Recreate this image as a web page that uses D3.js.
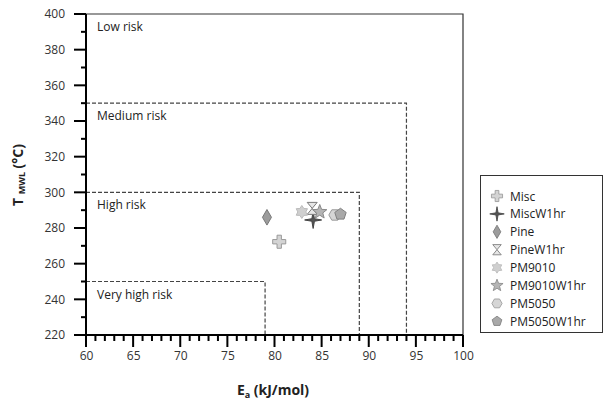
<!DOCTYPE html>
<html>
<head>
<meta charset="utf-8">
<script src="https://cdn.jsdelivr.net/npm/d3@7"></script>
<style>
html,body{margin:0;padding:0;background:#fff;}
svg{display:block;font-family:"Open Sans","Liberation Sans",sans-serif;}
</style>
</head>
<body>
<svg id="chart" width="604" height="401"></svg>
<script>
// ---- data ----
const seriesNames = ["Misc","MiscW1hr","Pine","PineW1hr","PM9010","PM9010W1hr","PM5050","PM5050W1hr"];
const eaValues    = [80.5, 84.1, 79.2, 84.0, 82.9, 84.8, 86.4, 87.0];
const tmwlValues  = [272.3, 284.5, 286.0, 291.0, 289.0, 289.0, 287.3, 287.7];
const zoneNames   = ["Low risk","Medium risk","High risk","Very high risk"];
const zoneTopT    = [400, 350, 300, 250];
const zoneRightEa = [100, 94, 89, 79];
const xMajorTicks = [60,65,70,75,80,85,90,95,100];
const yMajorTicks = [220,240,260,280,300,320,340,360,380,400];

const svg = d3.select("#chart");
const x = d3.scaleLinear().domain([60,100]).range([86,463]);
const y = d3.scaleLinear().domain([220,400]).range([335,14]);
const X0 = x(60), Y0 = y(220);

// frame (top & right)
svg.append("path")
  .attr("d", `M${X0},${y(400)}H${x(100)}V${Y0}`)
  .attr("fill","none").attr("stroke","#333").attr("stroke-width",1.2);

// risk zones
zoneNames.forEach((name,i)=>{
  if (i>0) {
    svg.append("path")
      .attr("d", `M${X0},${y(zoneTopT[i])}H${x(zoneRightEa[i])}V${Y0}`)
      .attr("fill","none").attr("stroke","#444").attr("stroke-width",1.2)
      .attr("stroke-dasharray","4,2");
  }
  svg.append("text")
    .attr("x", X0+11).attr("y", y(zoneTopT[i])+17)
    .attr("font-size",12).attr("fill","#222").text(name);
});

// axes labels via d3.axis
const gx = svg.append("g").attr("transform",`translate(0,${Y0})`)
  .call(d3.axisBottom(x).tickValues(xMajorTicks).tickSize(12).tickPadding(4).tickSizeOuter(0));
const gy = svg.append("g").attr("transform",`translate(${X0},0)`)
  .call(d3.axisLeft(y).tickValues(yMajorTicks).tickSize(12).tickPadding(9).tickSizeOuter(0));
[gx,gy].forEach(g=>{
  g.select(".domain").remove();
  g.selectAll(".tick line").remove();
  g.selectAll("text").attr("font-size",12).attr("fill","#333")
    .attr("font-family","'Open Sans','Liberation Sans',sans-serif");
});

// axis lines and tick marks as rects from the scales
const xMinor = d3.range(60,101,1).filter(v=>v%5!==0);
const yMinor = d3.range(220,401,10).filter(v=>v%20!==0);
const tickCol = "#000000";
const tk = svg.append("g");
function bar(x0,y0,w,h){ tk.append("rect").attr("x",x0).attr("y",y0).attr("width",w).attr("height",h).style("fill",tickCol); }
bar(X0-12, Y0-1, x(100)-X0+12, 2);
bar(X0-1, y(400), 2, Y0-y(400)+12);
xMajorTicks.forEach(v=>bar(x(v)-1, Y0, 2, 12));
xMinor.forEach(v=>bar(x(v)-1, Y0-1, 2, 7));
yMajorTicks.forEach(v=>bar(X0-12, y(v)-1, 12, 2));
yMinor.forEach(v=>bar(X0-5, y(v)-1, 5, 2));

// axis titles
const xt = svg.append("text").attr("x",273).attr("y",395).attr("text-anchor","middle")
  .attr("font-size",14).attr("font-weight","bold").attr("fill","#222");
xt.append("tspan").text("E");
xt.append("tspan").attr("font-size",9).attr("dy",3).text("a");
xt.append("tspan").attr("dy",-3).text(" (kJ/mol)");

const yt = svg.append("text").attr("transform",`translate(23,175) rotate(-90)`)
  .attr("text-anchor","middle").attr("font-size",14).attr("font-weight","bold").attr("fill","#222");
yt.append("tspan").text("T ");
yt.append("tspan").attr("font-size",9).attr("dy",2).text("MWL");
yt.append("tspan").attr("dy",-2).text(" (°C)");

// marker shapes
function starPath(n, ro, ri){
  const pts=[];
  for(let k=0;k<2*n;k++){
    const r = k%2===0?ro:ri, a = -Math.PI/2 + k*Math.PI/n;
    pts.push([r*Math.cos(a), r*Math.sin(a)]);
  }
  return "M"+pts.map(p=>p.join(",")).join("L")+"Z";
}
function polyPath(n, r, rot){
  const pts=[];
  for(let k=0;k<n;k++){ const a=rot+k*2*Math.PI/n; pts.push([r*Math.cos(a), r*Math.sin(a)]); }
  return "M"+pts.map(p=>p.join(",")).join("L")+"Z";
}
const markerStyles = [
  {d: d3.symbol(d3.symbolCross, 95)(), fill:"#d4d4d4", stroke:"#9a9a9a"},
  {d: starPath(4, 8.5, 1.8), fill:"#555", stroke:"#444"},
  {d: d3.symbol(d3.symbolDiamond, 70)(), fill:"#9c9c9c", stroke:"#777"},
  {d: "M-5,-6H5L0,0L5,6H-5L0,0Z", fill:"#e6e6e6", stroke:"#7a7a7a"},
  {d: starPath(6, 6.5, 4), fill:"#cfcfcf", stroke:"#bbb"},
  {d: starPath(5, 7.5, 3.2), fill:"#b5b5b5", stroke:"#8a8a8a"},
  {d: polyPath(6, 6, 0), fill:"#d6d6d6", stroke:"#9a9a9a"},
  {d: polyPath(5, 6, -Math.PI/2), fill:"#a9a9a9", stroke:"#808080"}
];

// points
svg.append("g").selectAll("path").data(seriesNames).join("path")
  .attr("transform",(d,i)=>`translate(${x(eaValues[i])},${y(tmwlValues[i])})`)
  .attr("d",(d,i)=>markerStyles[i].d)
  .attr("fill",(d,i)=>markerStyles[i].fill)
  .attr("stroke",(d,i)=>markerStyles[i].stroke)
  .attr("stroke-width",1);

// legend
const lg = svg.append("g");
lg.append("rect").attr("x",480.5).attr("y",175.5).attr("width",122).attr("height",157)
  .attr("fill","#fff").attr("stroke","#333").attr("stroke-width",1);
const items = lg.selectAll("g.item").data(seriesNames).join("g").attr("class","item")
  .attr("transform",(d,i)=>`translate(0,${196+i*17.9})`);
items.append("path").attr("transform","translate(497,0) scale(0.85)")
  .attr("d",(d,i)=>markerStyles[i].d)
  .attr("fill",(d,i)=>markerStyles[i].fill)
  .attr("stroke",(d,i)=>markerStyles[i].stroke);
items.append("text").attr("x",510).attr("y",4.5).attr("font-size",12).attr("fill","#222").text(d=>d);
</script>
</body>
</html>
